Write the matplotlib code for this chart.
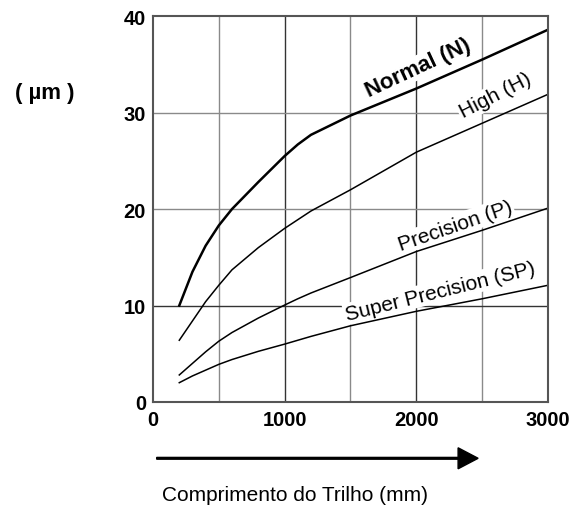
import numpy as np
import matplotlib.pyplot as plt
from matplotlib.patches import FancyArrow

plt.rcParams['font.family'] = ['Liberation Sans', 'DejaVu Sans']

# rail length (mm) and accuracy values (um)
x_len = [200, 300, 400, 500, 600, 800, 1000, 1100, 1200, 1500, 2000, 2500, 3000]
normal = [10.0, 13.5, 16.2, 18.3, 20.0, 22.8, 25.5, 26.7, 27.7, 29.7, 32.5, 35.5, 38.6]
high = [6.4, 8.4, 10.4, 12.1, 13.7, 16.0, 18.0, 18.9, 19.8, 22.0, 25.9, 28.9, 31.9]
precision = [2.8, 4.0, 5.2, 6.3, 7.2, 8.7, 10.05, 10.7, 11.3, 12.9, 15.6, 17.8, 20.1]
super_precision = [2.0, 2.7, 3.3, 3.9, 4.4, 5.25, 6.0, 6.4, 6.8, 7.9, 9.4, 10.7, 12.1]

x_ticks = [0, 1000, 2000, 3000]
y_ticks = [0, 10, 20, 30, 40]

fig = plt.figure(figsize=(5.75, 5.06), dpi=100)
ax = fig.add_axes([0.266, 0.2036, 0.687, 0.7624])

# grid: full thousand lines darker, half lines lighter
for gx in [500, 1500, 2500]:
  ax.axvline(gx, color='#8a8a8a', lw=1.0, zorder=1)
for gx in [1000, 2000]:
  ax.axvline(gx, color='#333333', lw=1.0, zorder=1)
ax.axhline(10, color='#333333', lw=1.0, zorder=1)
for gy in [20, 30]:
  ax.axhline(gy, color='#8a8a8a', lw=1.0, zorder=1)

ax.plot(x_len, normal, color='black', lw=1.8, zorder=3)
ax.plot(x_len, high, color='black', lw=1.1, zorder=3)
ax.plot(x_len, precision, color='black', lw=1.1, zorder=3)
ax.plot(x_len, super_precision, color='black', lw=1.1, zorder=3)

box = dict(facecolor='white', edgecolor='none', pad=1.0)
ax.text(2013, 34.7, 'Normal (N)', rotation=25, fontsize=16, fontweight='bold',
        ha='center', va='center', bbox=box, zorder=2)
ax.text(2597, 31.8, 'High (H)', rotation=27, fontsize=15,
        ha='center', va='center', bbox=box, zorder=2)
ax.text(2294, 18.3, 'Precision (P)', rotation=19, fontsize=15,
        ha='center', va='center', bbox=box, zorder=2)
ax.text(2180, 11.5, 'Super Precision (SP)', rotation=14, fontsize=15,
        ha='center', va='center', bbox=box, zorder=2)

ax.set_xlim(0, 3000)
ax.set_ylim(0, 40)
ax.set_xticks(x_ticks)
ax.set_yticks(y_ticks)
ax.tick_params(labelsize=14.5, length=0)
ax.tick_params(axis='x', pad=6)
ax.tick_params(axis='y', pad=5)
for lab in ax.get_xticklabels() + ax.get_yticklabels():
  lab.set_fontweight('bold')
for sp in ax.spines.values():
  sp.set_color('#555555')
  sp.set_linewidth(1.5)
  sp.set_zorder(4)

fig.text(0.078, 0.816, '( µm )', fontsize=16, fontweight='bold', ha='center', va='center')

# arrow under x axis
fig.patches.append(FancyArrow(
  0.2725, 0.0923, 0.559, 0.0, width=0.0035, head_width=0.0415, head_length=0.0348,
  length_includes_head=True, color='black', transform=fig.transFigure, figure=fig))
fig.text(0.513, 0.02, 'Comprimento do Trilho (mm)', fontsize=15, ha='center', va='center')

fig.savefig('out.png', dpi=100)
